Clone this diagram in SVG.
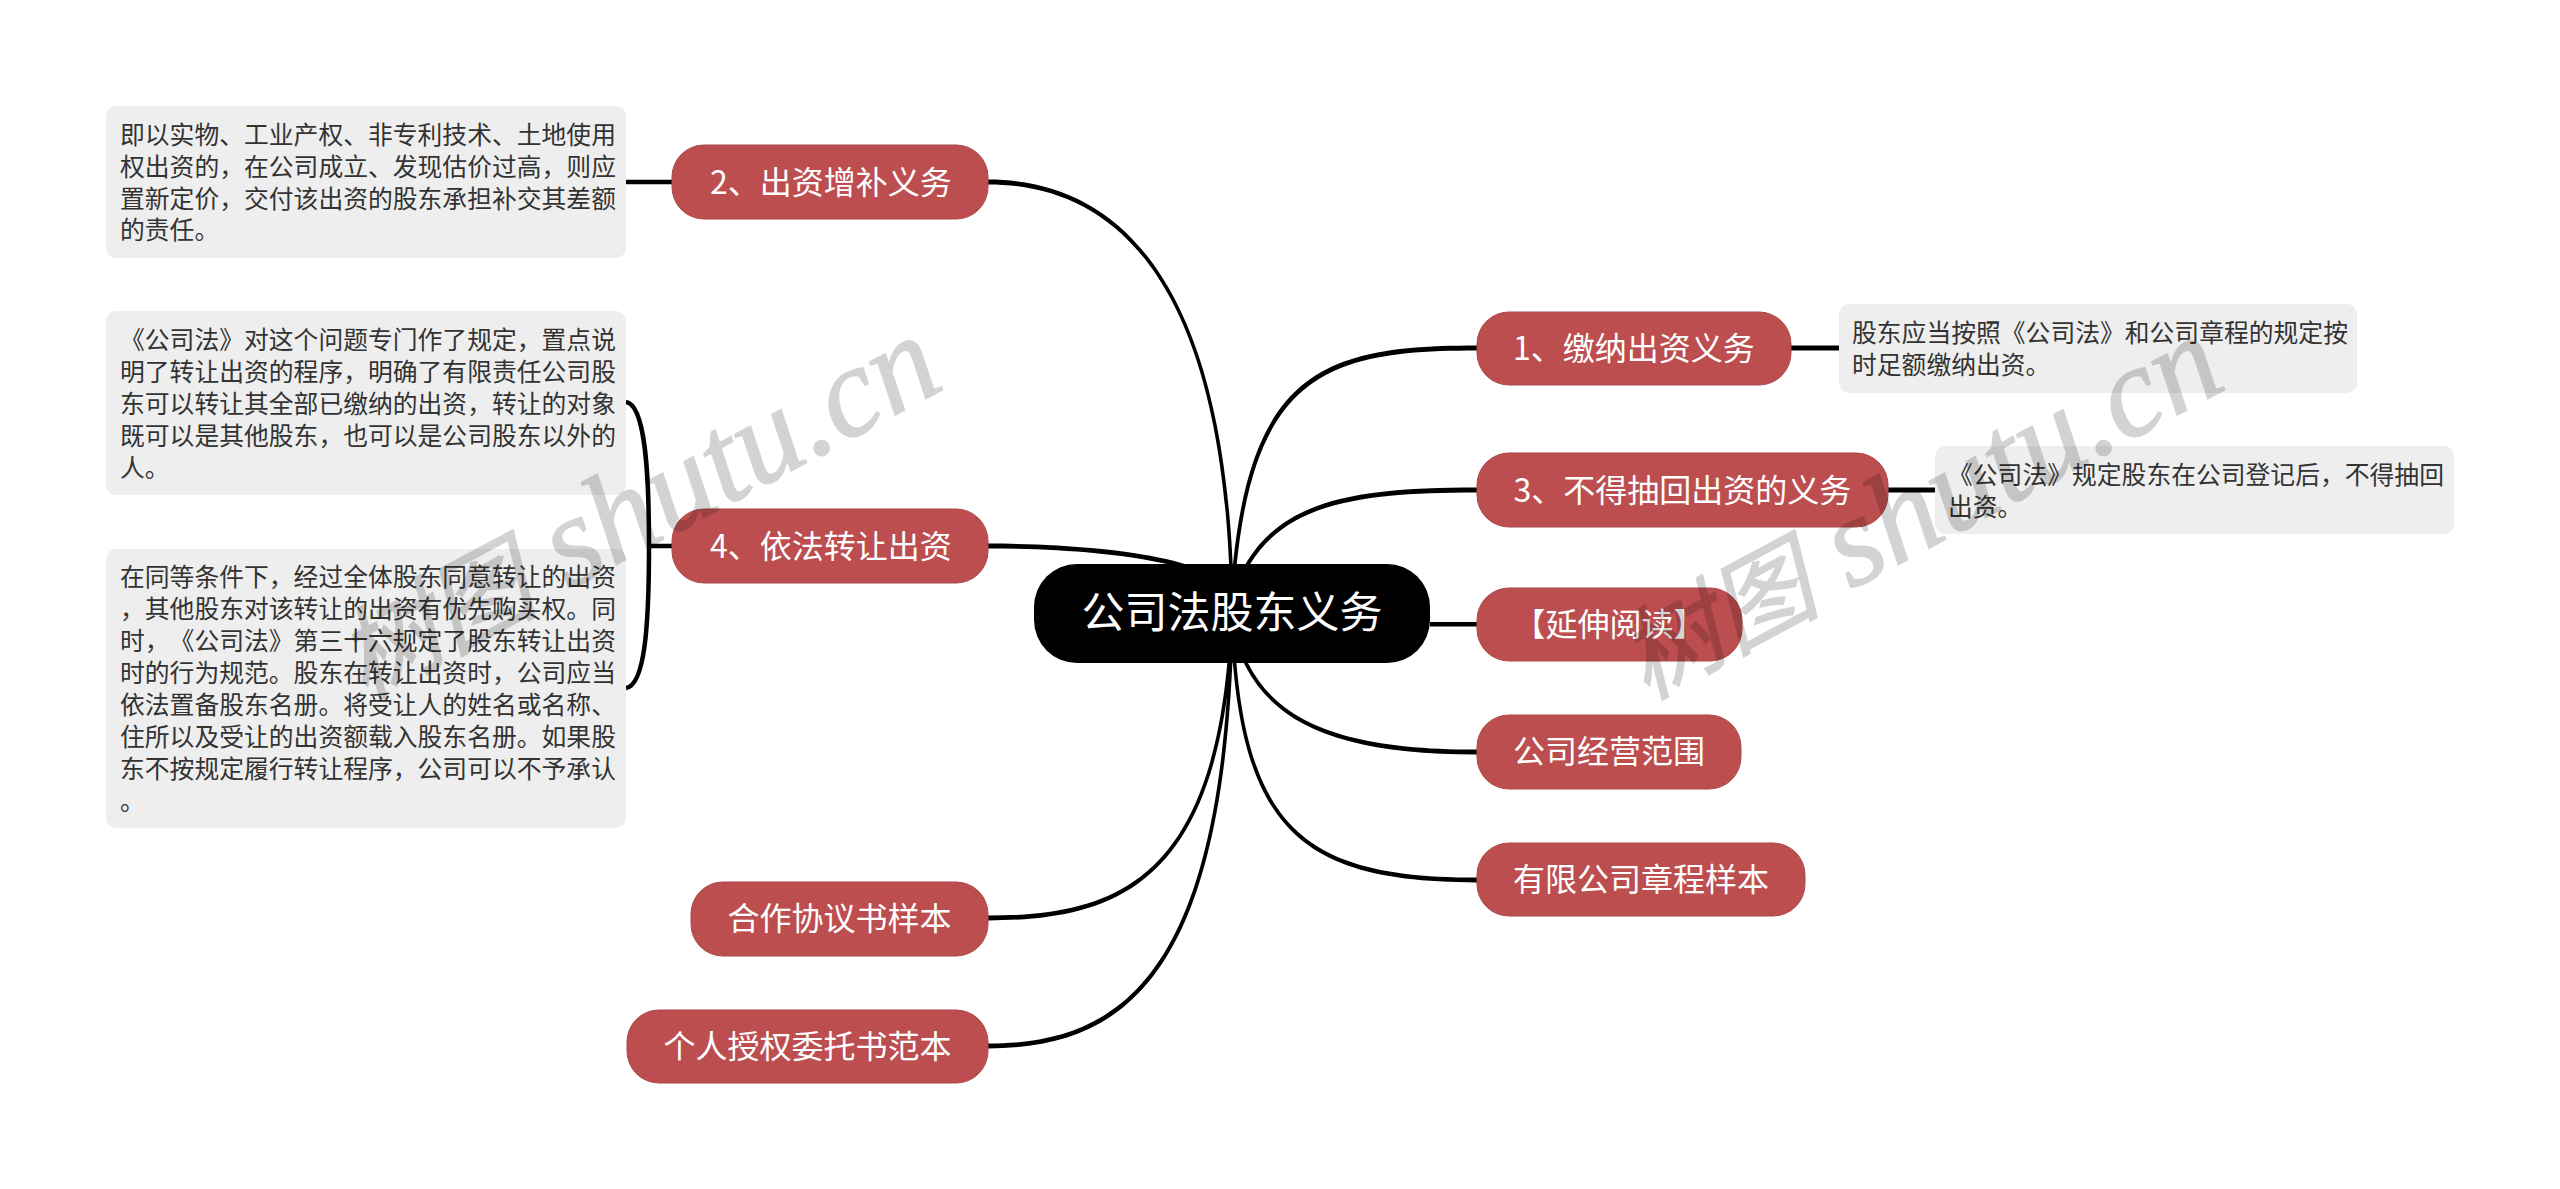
<svg xmlns="http://www.w3.org/2000/svg" width="2560" height="1189" viewBox="0 0 2560 1189">
<style>
text{font-family:"Noto Sans CJK SC","Noto Sans",sans-serif;text-spacing-trim:space-all;font-kerning:none}
.root{fill:#000}
.rt{fill:#fff;font-size:43px;text-anchor:middle}
.br{fill:#bd4e4f;stroke:#a94849;stroke-width:1}
.bt{fill:#fff;font-size:32px;text-anchor:middle}
.nb{fill:#eeeeee}
.nt{fill:#333;font-size:24.8px}
.link{fill:#000}
.st{fill:none;stroke:#000;stroke-width:4.5}
.wm{font-family:"Liberation Serif","Noto Sans CJK SC",serif;font-style:italic;font-size:128px;fill:#000;stroke:#000;stroke-width:1.6;opacity:.17}
.wc{font-size:100px}
</style>
<rect width="2560" height="1189" fill="#fff"/>
<g id="connectors">
<path class="link" d="M988,179.6C1121,179.6 1228,285 1233.8,600L1230.2,600C1224.5,286 1119,184.4 988,184.4Z"/>
<path class="link" d="M988,543.6C1110,543.6 1232,560 1233,600L1230,600C1226,565 1110,548.4 988,548.4Z"/>
<path class="link" d="M988,915.6C1120,915.6 1219,878 1230.2,620L1233.8,620C1222.5,881 1121,920.4 988,920.4Z"/>
<path class="link" d="M988,1043.6C1125,1043.6 1223,970 1230.2,620L1233.8,620C1226.5,973 1127,1048.4 988,1048.4Z"/>
<path class="link" d="M1477,345.6C1320,345.6 1244,372 1230.2,600L1233.8,600C1248,376 1321,350.4 1477,350.4Z"/>
<path class="link" d="M1477,487.6C1340,487.6 1260,503 1230.2,600L1233.8,600C1264,507 1341,492.4 1477,492.4Z"/>
<path class="link" d="M1430,622L1477,622L1477,626.4L1430,626.4Z"/>
<path class="link" d="M1477,749.6C1321,749.6 1252,712 1233.8,620L1230.2,620C1248.5,715 1320,754.4 1477,754.4Z"/>
<path class="link" d="M1477,877.6C1301,877.6 1242,827 1233.8,620L1230.2,620C1238.5,830 1300,882.4 1477,882.4Z"/>
<path class="st" d="M626,182H672"/>
<path class="st" d="M1791,348H1839" style="stroke-width:5"/>
<path class="st" d="M1888,490H1935" style="stroke-width:5"/>
<path class="st" d="M672,546H649"/>
<path class="st" d="M626,402C645,405 649,470 649,546C649,625 645,685 626,688"/>
</g>
<g id="root"><rect class="root" x="1034" y="564" width="396" height="99" rx="43"/><text class="rt" x="1232" y="628">公司法股东义务</text></g>
<g id="n2"><rect class="br" x="672" y="145" width="316" height="74" rx="32"/><text class="bt" x="831" y="194">2、出资增补义务</text></g>
<g id="n4"><rect class="br" x="672" y="509" width="316" height="74" rx="32"/><text class="bt" x="831" y="558">4、依法转让出资</text></g>
<g id="n5"><rect class="br" x="691" y="882" width="297" height="74" rx="32"/><text class="bt" x="839.5" y="930">合作协议书样本</text></g>
<g id="n6"><rect class="br" x="627" y="1010" width="361" height="73" rx="32"/><text class="bt" x="807.5" y="1058">个人授权委托书范本</text></g>
<g id="n1"><rect class="br" x="1477" y="312" width="314" height="73" rx="32"/><text class="bt" x="1634" y="360">1、缴纳出资义务</text></g>
<g id="n3"><rect class="br" x="1477" y="453" width="411" height="74" rx="32"/><text class="bt" x="1682.5" y="502">3、不得抽回出资的义务</text></g>
<g id="n7"><rect class="br" x="1477" y="588" width="265" height="73" rx="32"/><text class="bt" x="1609.5" y="636">【延伸阅读】</text></g>
<g id="n8"><rect class="br" x="1477" y="715" width="264" height="74" rx="32"/><text class="bt" x="1609" y="763">公司经营范围</text></g>
<g id="n9"><rect class="br" x="1477" y="843" width="328" height="73" rx="32"/><text class="bt" x="1641" y="891">有限公司章程样本</text></g>
<g id="note2"><rect class="nb" x="106" y="106" width="520" height="152" rx="10"/>
<text class="nt"><tspan x="120" y="144">即以实物、工业产权、非专利技术、土地使用</tspan><tspan x="120" y="176">权出资的，在公司成立、发现估价过高，则应</tspan><tspan x="120" y="208">置新定价，交付该出资的股东承担补交其差额</tspan><tspan x="120" y="239">的责任。</tspan></text></g>
<g id="note4a"><rect class="nb" x="106" y="311" width="520" height="184" rx="10"/>
<text class="nt"><tspan x="120" y="349">《公司法》对这个问题专门作了规定，置点说</tspan><tspan x="120" y="381">明了转让出资的程序，明确了有限责任公司股</tspan><tspan x="120" y="413">东可以转让其全部已缴纳的出资，转让的对象</tspan><tspan x="120" y="445">既可以是其他股东，也可以是公司股东以外的</tspan><tspan x="120" y="477">人。</tspan></text></g>
<g id="note4b"><rect class="nb" x="106" y="549" width="520" height="279" rx="10"/>
<text class="nt"><tspan x="120" y="586">在同等条件下，经过全体股东同意转让的出资</tspan><tspan x="120" y="618">，其他股东对该转让的出资有优先购买权。同</tspan><tspan x="120" y="650">时，《公司法》第三十六规定了股东转让出资</tspan><tspan x="120" y="682">时的行为规范。股东在转让出资时，公司应当</tspan><tspan x="120" y="714">依法置备股东名册。将受让人的姓名或名称、</tspan><tspan x="120" y="746">住所以及受让的出资额载入股东名册。如果股</tspan><tspan x="120" y="778">东不按规定履行转让程序，公司可以不予承认</tspan><tspan x="120" y="810">。</tspan></text></g>
<g id="note1"><rect class="nb" x="1839" y="304" width="518" height="89" rx="10"/>
<text class="nt"><tspan x="1852" y="342">股东应当按照《公司法》和公司章程的规定按</tspan><tspan x="1852" y="374">时足额缴纳出资。</tspan></text></g>
<g id="note3"><rect class="nb" x="1935" y="446" width="519" height="88" rx="10"/>
<text class="nt"><tspan x="1948" y="484">《公司法》规定股东在公司登记后，不得抽回</tspan><tspan x="1948" y="516">出资。</tspan></text></g>
<g id="watermarks">
<text class="wm" transform="translate(364,700) rotate(-28.2)"><tspan class="wc">树图</tspan> shutu.cn</text>
<text class="wm" transform="translate(1646,700) rotate(-28.2)"><tspan class="wc">树图</tspan> shutu.cn</text>
</g>
</svg>
